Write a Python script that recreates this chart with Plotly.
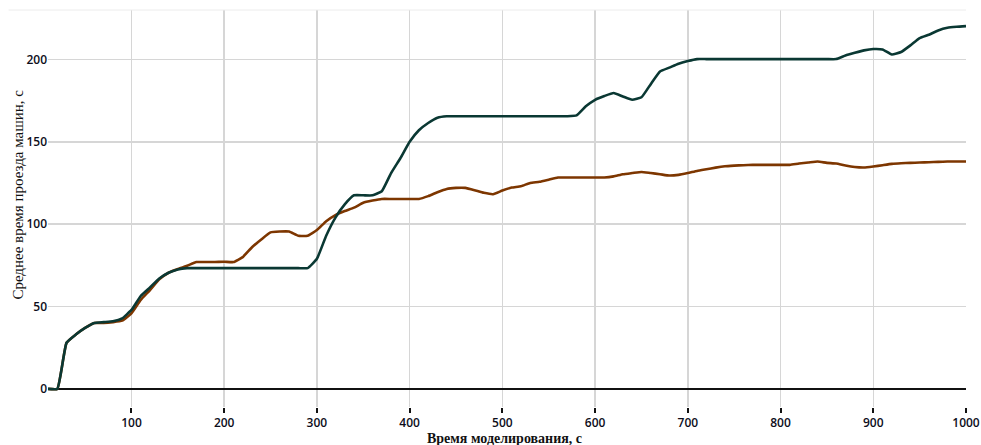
import plotly.graph_objects as go

time_s = list(range(10, 1001, 10))

teal_avg = [
    0, 0, 28, 33, 37, 40, 40.5, 41, 42.8, 47.9,
    56.4, 61.6, 67, 70.5, 72.5, 73.3, 73.3, 73.3, 73.3, 73.3,
    73.3, 73.3, 73.3, 73.3, 73.3, 73.3, 73.3, 73.3, 73.3, 79,
    93, 104, 112, 117.5, 117.5, 117.5, 120, 131, 140, 150,
    157, 161.4, 164.6, 165.5, 165.5, 165.5, 165.5, 165.5, 165.5, 165.5,
    165.5, 165.5, 165.5, 165.5, 165.5, 165.5, 165.5, 166, 171.5, 175.5,
    177.8, 179.6, 177.5, 175.5, 177, 185, 192.7, 195, 197.4, 199,
    200.2, 200.2, 200.2, 200.2, 200.2, 200.2, 200.2, 200.2, 200.2, 200.2,
    200.2, 200.2, 200.2, 200.2, 200.2, 200.2, 202.4, 204, 205.5, 206.3,
    206, 203, 204.5, 208.5, 212.9, 215, 217.6, 219.2, 219.8, 220.2,
]

orange_avg = [
    0, 0, 28, 33, 37, 40, 40, 40.5, 41.4, 45.9,
    54, 60, 66.5, 70.5, 72.8, 74.7, 77, 77, 77, 77.2,
    77, 80, 86, 90.7, 95, 95.5, 95.5, 92.9, 93, 96.4,
    101.8, 105.5, 108, 110, 113, 114.3, 115.3, 115.3, 115.3, 115.3,
    115.3, 117, 119.4, 121.4, 122, 122, 120.6, 119, 118.2, 120.4,
    122.2, 123, 125, 125.7, 127, 128.3, 128.3, 128.3, 128.3, 128.3,
    128.3, 129, 130.3, 131, 131.7, 131, 130.3, 129.5, 129.9, 131,
    132.3, 133.3, 134.3, 135.1, 135.5, 135.8, 136, 136, 136, 136,
    136, 136.8, 137.4, 138, 137.2, 136.8, 135.6, 134.7, 134.4, 135,
    135.8, 136.6, 137, 137.2, 137.4, 137.6, 137.8, 138, 138, 138,
]

x_ticks = [100, 200, 300, 400, 500, 600, 700, 800, 900, 1000]
y_ticks = [0, 50, 100, 150, 200]

fig = go.Figure()
fig.add_trace(go.Scatter(x=time_s, y=orange_avg, mode="lines",
                         line=dict(color="#7d3600", width=2.6, shape="spline", smoothing=0.4),
                         showlegend=False, hoverinfo="skip"))
fig.add_trace(go.Scatter(x=time_s, y=teal_avg, mode="lines",
                         line=dict(color="#0a3833", width=2.6, shape="spline", smoothing=0.4),
                         showlegend=False, hoverinfo="skip"))

tick_font = dict(family="Open Sans", size=12, color="#0d0d1a", weight=600)

fig.update_layout(
    width=981, height=445,
    margin=dict(l=48, r=15, t=10, b=38),
    paper_bgcolor="white", plot_bgcolor="white",
    xaxis=dict(range=[10, 1000], tickvals=x_ticks, ticktext=[str(v) for v in x_ticks],
               showgrid=True, gridcolor="#d6d6d6", gridwidth=1.5,
               zeroline=False, showline=False, automargin=False,
               ticks="outside", ticklen=5, tickwidth=2, tickcolor="#111",
               tickfont=tick_font, fixedrange=True),
    yaxis=dict(range=[-11, 230], tickvals=y_ticks, ticktext=[str(v) for v in y_ticks],
               showgrid=True, gridcolor="#d6d6d6", gridwidth=1.5,
               zeroline=True, zerolinecolor="#111", zerolinewidth=2,
               showline=False, automargin=False, ticks="", tickfont=tick_font,
               fixedrange=True),
    shapes=[dict(type="line", xref="paper", yref="paper", x0=-0.043, x1=1.0, y0=1, y1=1,
                 line=dict(color="#ececec", width=1))],
    annotations=[
        dict(text="Время моделирования, с", xref="paper", yref="paper", x=0.497, y=0,
             yshift=-22, xanchor="center", yanchor="top", showarrow=False,
             font=dict(family="Liberation Serif", size=14, color="#111", weight="bold")),
        dict(text="Среднее время проезда машин, с", xref="paper", yref="paper", x=0, y=0.535,
             xshift=-30, xanchor="center", yanchor="middle", textangle=-90, showarrow=False,
             font=dict(family="Liberation Serif", size=15, color="#111")),
    ],
)

fig.write_html("out.html",
               config={"displayModeBar": False, "staticPlot": True},
               post_script="document.body.style.margin='0';document.body.style.overflow='hidden';")
